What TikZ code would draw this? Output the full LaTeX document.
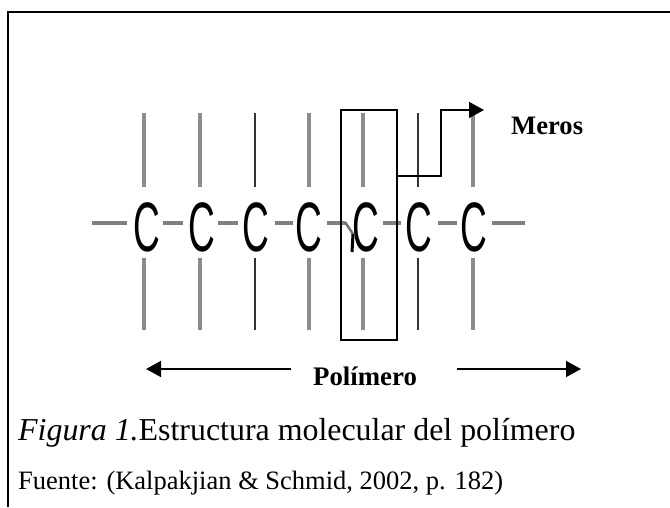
\documentclass[tikz,border=0pt]{standalone}
\usepackage{fontspec}
\setmainfont{Liberation Serif}
\newfontfamily\glyphfont{Liberation Sans}
\usetikzlibrary{arrows.meta}
\tikzset{
  x=1pt,y=-1pt,
  bond/.style={draw=black!50,line width=4.5pt},
  side/.style={draw=black!45,line width=3.2pt},
  thinside/.style={draw=black!80,line width=1.8pt},
  carbon/.style={inner sep=0pt,text=black,font=\glyphfont\fontsize{70}{70}\selectfont,xscale=.53,anchor=center},
  frameline/.style={draw=black,line width=2pt},
  pointer/.style={draw=black,line width=1.5pt,-{Triangle[length=15pt,width=16pt]}},
  label/.style={inner sep=0pt,anchor=base west},
}
\begin{document}
\begin{tikzpicture}
\useasboundingbox (0,0) rectangle (670,507);
\draw[frameline] (8,507) -- (8,12) -- (670,12);
% carbon atoms
\foreach \n/\x/\v in {a/146.5/144,b/201.5/200,c/256/255,d/309/309,e/366/363,f/419/418,g/474/473}{
  \node[carbon] (\n) at (\x,227) {C};
  \coordinate (\n t1) at (\v,113);
  \coordinate (\n t2) at (\v,187);
  \coordinate (\n b1) at (\v,258);
  \coordinate (\n b2) at (\v,330);
}
\foreach \n in {a,b,d,e,g}{
  \draw[side] (\n t1) -- (\n t2);
  \draw[side] (\n b1) -- (\n b2);
}
\foreach \n in {c,f}{
  \draw[thinside] (\n t1) -- (\n t2);
  \draw[thinside] (\n b1) -- (\n b2);
}
% bonds
\coordinate (s) at (92,223);
\coordinate (sa) at (127,223);
\coordinate (ab1) at (163,223);\coordinate (ab2) at (183,223);
\coordinate (bc1) at (218,223);\coordinate (bc2) at (238,223);
\coordinate (cd1) at (275,223);\coordinate (cd2) at (293,223);
\coordinate (de1) at (327,223);\coordinate (de2) at (345,223);
\coordinate (ef1) at (383,223);\coordinate (ef2) at (401,223);
\coordinate (fg1) at (438,223);\coordinate (fg2) at (457,223);
\coordinate (e1) at (492,223);\coordinate (e2) at (525,223);
\draw[bond] (s) -- (sa);
\draw[bond] (ab1) -- (ab2);
\draw[bond] (bc1) -- (bc2);
\draw[bond] (cd1) -- (cd2);
\draw[bond] (de1) -- (de2);
\draw[bond] (ef1) -- (ef2);
\draw[bond] (fg1) -- (fg2);
\draw[bond] (e1) -- (e2);
% smudge where the fourth bond meets the fifth atom
\coordinate (sm1) at (345,222);\coordinate (sm2) at (353,234);\coordinate (sm3) at (352,252);
\draw[draw=black!55,line width=2.5pt] (sm1) -- (sm2);
\draw[draw=black,line width=3pt] (sm2) -- (sm3);
% mer box and pointer
\node[draw=black,line width=1.5pt,minimum width=56pt,minimum height=230pt,inner sep=0pt] (box) at (369,225) {};
\coordinate (boxout) at (box.east |- 0,176);
\coordinate (corner1) at (441,176);
\coordinate (corner2) at (441,110);
\coordinate (tip) at (484,110);
\draw[pointer] (boxout) -- (corner1) -- (corner2) -- (tip);
\node[label,font=\bfseries\fontsize{26.6}{26.6}\selectfont] (meros) at (511,134) {Meros};
% polymer
\node[label,font=\bfseries\fontsize{26.8}{26.8}\selectfont] (polimero) at (313,385) {Polímero};
\coordinate (la) at (291,369);\coordinate (lb) at (146,369);
\coordinate (ra) at (457,369);\coordinate (rb) at (581,369);
\draw[pointer] (la) -- (lb);
\draw[pointer] (ra) -- (rb);
% captions
\node[label,font=\fontsize{31.9}{31.9}\selectfont] (cap) at (18,440) {\textit{Figura 1.}Estructura molecular del polímero};
\node[label,font=\fontsize{26.5}{26.5}\selectfont] (src) at (18,489) {Fuente: (Kalpakjian \& Schmid, 2002, p. 182)};
\end{tikzpicture}
\end{document}
